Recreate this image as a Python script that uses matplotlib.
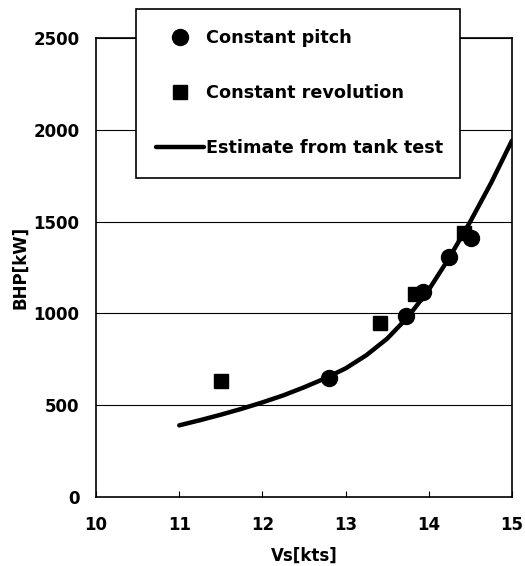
import matplotlib
matplotlib.use('Agg')
import matplotlib.pyplot as plt

# measured points
pitch_vs = [12.8, 13.73, 13.93, 14.24, 14.51]
pitch_bhp = [646, 985, 1118, 1309, 1410]

rev_vs = [11.5, 13.41, 13.83, 14.42]
rev_bhp = [630, 949, 1105, 1436]

# tank test estimate
tank_vs = [11.0, 11.25, 11.5, 11.75, 12.0, 12.25, 12.5, 12.75, 13.0,
           13.25, 13.5, 13.75, 14.0, 14.25, 14.5, 14.75, 15.0]
tank_bhp = [390, 418, 448, 480, 515, 553, 597, 645, 700,
            772, 862, 980, 1128, 1305, 1500, 1710, 1940]

plt.rcParams['font.family'] = ['DejaVu Sans']
plt.rcParams['font.weight'] = 'bold'

fig = plt.figure(figsize=(5.25, 5.66), dpi=100)
ax = fig.add_axes([0.183, 0.122, 0.792, 0.811])

ax.plot(tank_vs, tank_bhp, color='black', lw=3.2, solid_capstyle='round',
        solid_joinstyle='round', label='Estimate from tank test', zorder=3)
ax.plot(pitch_vs, pitch_bhp, 'o', color='black', ms=11.5, ls='none',
        label='Constant pitch', zorder=4)
ax.plot(rev_vs, rev_bhp, 's', color='black', ms=9.5, ls='none',
        label='Constant revolution', zorder=4)

ax.set_xlim(10, 15)
ax.set_ylim(0, 2500)
ax.set_xticks([10, 11, 12, 13, 14, 15])
ax.set_yticks([0, 500, 1000, 1500, 2000, 2500])
ax.yaxis.grid(True, color='black', lw=0.8)
ax.set_axisbelow(True)
ax.tick_params(axis='x', direction='in', length=4, pad=14, labelsize=12)
ax.tick_params(axis='y', length=0, pad=12, labelsize=12)
for lbl in ax.get_xticklabels() + ax.get_yticklabels():
    lbl.set_fontweight('bold')
for s in ax.spines.values():
    s.set_linewidth(1.2)

ax.set_xlabel('Vs[kts]', fontsize=12, fontweight='bold', labelpad=9)
ax.set_ylabel('BHP[kW]', fontsize=12, fontweight='bold', labelpad=3)

handles, labels = ax.get_legend_handles_labels()
order = [1, 2, 0]
leg = fig.legend([handles[i] for i in order], [labels[i] for i in order],
                 loc='upper left', bbox_to_anchor=(0.259, 0.687, 0.617, 0.297),
                 bbox_transform=fig.transFigure, mode='expand', fancybox=False,
                 framealpha=1, edgecolor='black', fontsize=12.7, labelspacing=2.1,
                 handlelength=2.7, handletextpad=0.1, borderpad=1.15,
                 borderaxespad=0)
leg.get_frame().set_linewidth(1.2)
for t in leg.get_texts():
    t.set_fontweight('bold')

fig.savefig('out.png', dpi=100)
